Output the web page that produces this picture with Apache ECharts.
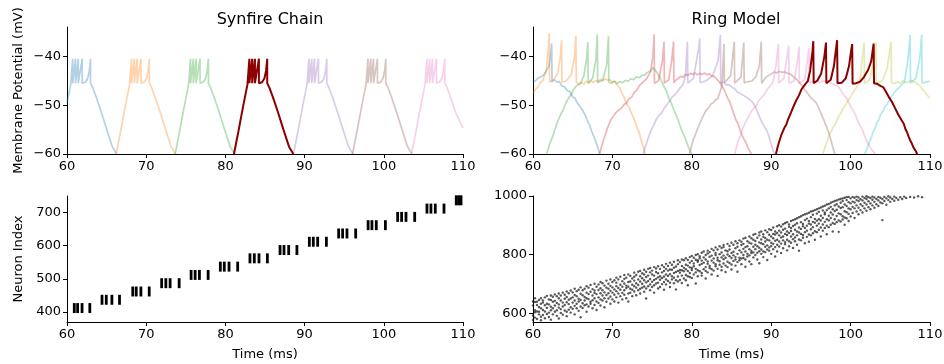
<!DOCTYPE html>
<html>
<head>
  <meta charset="utf-8">
  <style>
    html, body { margin: 0; padding: 0; width: 100%; height: 100%; overflow: hidden; background: #fff; }
  </style>
  <script src="https://cdn.jsdelivr.net/npm/echarts@6/dist/echarts.min.js"></script>
</head>
<body>
  <div id="container" style="width: 944px; height: 364px;"></div>
  <script>
    // ---- data ----
    var vTicks = [-60, -50, -40];
    var synfireNeuronTicks = [400, 500, 600, 700];
    var ringNeuronTicks = [600, 800, 1000];

    // synfire chain membrane traces (ms, mV)
    var synBlue = [[60,-49.6],[60.47,-45.8],[60.72,-40.5],[60.72,-45.5],[61.07,-40.5],[61.07,-45.5],[61.42,-40.5],[61.42,-45.5],[61.67,-45.2],[61.92,-40.5],[61.92,-45.5],[62.32,-45.3],[62.62,-44.5],[62.82,-43],[62.97,-40.5],[62.97,-45.5],[63.22,-46.3],[63.72,-48.5],[64.32,-51.4],[65.02,-55],[65.72,-58.5],[66.27,-60]];
    var synOrange = [[66.2,-60],[66.75,-55.5],[67.35,-50.3],[67.9,-45.8],[68.15,-40.5],[68.15,-45.5],[68.5,-40.5],[68.5,-45.5],[68.85,-40.5],[68.85,-45.5],[69.1,-45.2],[69.35,-40.5],[69.35,-45.5],[69.75,-45.3],[70.05,-44.5],[70.25,-43],[70.4,-40.5],[70.4,-45.5],[70.65,-46.3],[71.15,-48.5],[71.75,-51.4],[72.45,-55],[73.15,-58.5],[73.7,-60]];
    var synGreen = [[73.65,-60],[74.2,-55.5],[74.8,-50.3],[75.35,-45.8],[75.6,-40.5],[75.6,-45.5],[75.95,-40.5],[75.95,-45.5],[76.3,-40.5],[76.3,-45.5],[76.55,-45.2],[76.8,-40.5],[76.8,-45.5],[77.2,-45.3],[77.5,-44.5],[77.7,-43],[77.85,-40.5],[77.85,-45.5],[78.1,-46.3],[78.6,-48.5],[79.2,-51.4],[79.9,-55],[80.6,-58.5],[81.15,-60]];
    var synDark = [[81.08,-60],[81.63,-55.5],[82.23,-50.3],[82.78,-45.8],[83.03,-40.5],[83.03,-45.5],[83.38,-40.5],[83.38,-45.5],[83.73,-40.5],[83.73,-45.5],[83.98,-45.2],[84.23,-40.5],[84.23,-45.5],[84.63,-45.3],[84.93,-44.5],[85.13,-43],[85.28,-40.5],[85.28,-45.5],[85.53,-46.3],[86.03,-48.5],[86.63,-51.4],[87.33,-55],[88.03,-58.5],[88.58,-60]];
    var synPurple = [[88.6,-60],[89.15,-55.5],[89.75,-50.3],[90.3,-45.8],[90.55,-40.5],[90.55,-45.5],[90.9,-40.5],[90.9,-45.5],[91.25,-40.5],[91.25,-45.5],[91.5,-45.2],[91.75,-40.5],[91.75,-45.5],[92.15,-45.3],[92.45,-44.5],[92.65,-43],[92.8,-40.5],[92.8,-45.5],[93.05,-46.3],[93.55,-48.5],[94.15,-51.4],[94.85,-55],[95.55,-58.5],[96.1,-60]];
    var synBrown = [[96.05,-60],[96.6,-55.5],[97.2,-50.3],[97.75,-45.8],[98,-40.5],[98,-45.5],[98.35,-40.5],[98.35,-45.5],[98.7,-40.5],[98.7,-45.5],[98.95,-45.2],[99.2,-40.5],[99.2,-45.5],[99.6,-45.3],[99.9,-44.5],[100.1,-43],[100.25,-40.5],[100.25,-45.5],[100.5,-46.3],[101,-48.5],[101.6,-51.4],[102.3,-55],[103,-58.5],[103.55,-60]];
    var synPink = [[103.5,-60],[104.05,-55.5],[104.65,-50.3],[105.2,-45.8],[105.45,-40.5],[105.45,-45.5],[105.8,-40.5],[105.8,-45.5],[106.15,-40.5],[106.15,-45.5],[106.4,-45.2],[106.65,-40.5],[106.65,-45.5],[107.05,-45.3],[107.35,-44.5],[107.55,-43],[107.7,-40.5],[107.7,-45.5],[107.95,-46.3],[108.45,-48.5],[109.05,-51.4],[110,-54.7]];

    // ring model membrane traces
    var ringBlue = [[60,-44.8],[60.3,-45.1],[60.6,-44.5],[61,-44.2],[61.3,-43.9],[61.6,-43.2],[62,-42],[62.25,-39.5],[62.35,-37.4],[62.4,-45.2],[62.7,-44.8],[63,-45.3],[63.3,-45.1],[63.6,-46],[64,-46.3],[64.3,-47],[64.6,-47.2],[65,-48.3],[65.3,-48.6],[65.6,-49.6],[65.9,-50.2],[66.3,-51.2],[66.6,-52.1],[66.9,-53.4],[67.1,-54],[67.4,-55.4],[67.8,-57],[68.1,-58.3],[68.4,-60]];
    var ringOrange = [[60,-47.5],[60.3,-46.8],[60.6,-46.3],[60.9,-45.4],[61.3,-44.8],[61.7,-42.5],[61.95,-38],[62.05,-35.3],[62.1,-45.3],[62.6,-44.8],[63.1,-43.5],[63.45,-40],[63.6,-36.7],[63.65,-45.3],[64.2,-45],[64.8,-43.8],[65.2,-40.5],[65.4,-35.8],[65.45,-45.3],[65.8,-45.8],[66.1,-45.3],[66.4,-45.7],[66.7,-45.1],[67,-45.5],[67.3,-45.0],[67.6,-45.4],[67.9,-44.9],[68.2,-45.2],[68.5,-44.7],[68.8,-45.0],[69.1,-44.6],[69.4,-44.9],[69.7,-44.8],[70,-45.3],[70.3,-45.2],[70.6,-45.9],[70.9,-46.4],[71.2,-47.6],[71.5,-48.5],[71.8,-49.8],[72.1,-50.4],[72.4,-51.7],[72.7,-52.6],[73,-54.2],[73.3,-55.3],[73.6,-57],[73.9,-58.6],[74.1,-60]];
    var ringGreen = [[61.7,-60],[62.1,-58],[62.5,-56.3],[62.8,-54.8],[63.1,-53.4],[63.5,-51.8],[63.8,-51],[64.1,-49.7],[64.5,-48.5],[64.8,-47.9],[65.1,-46.8],[65.5,-46],[66,-45.5],[66.4,-44],[66.75,-40.5],[66.9,-37.1],[66.95,-45.5],[67.5,-44.5],[67.9,-41],[68.1,-35.5],[68.15,-45.4],[68.8,-44.8],[69.3,-41.5],[69.5,-35.9],[69.55,-45.3],[69.9,-45.5],[70.2,-45.0],[70.6,-45.6],[70.9,-45.2],[71.3,-45.4],[71.6,-44.9],[72,-45.1],[72.3,-44.6],[72.7,-44.8],[73,-44.2],[73.4,-44.4],[73.7,-43.9],[74.1,-43.8],[74.4,-43.3],[74.8,-43],[75.1,-42.3],[75.3,-42.5],[75.7,-43.5],[76.1,-44.8],[76.5,-46.2],[76.8,-47.1],[77.1,-48.6],[77.4,-49.5],[77.7,-50.8],[78,-51.9],[78.3,-53.2],[78.7,-55],[79,-56.1],[79.3,-57.4],[79.6,-58.7],[80,-60]];
    var ringRed = [[68.4,-60],[68.8,-57.5],[69.1,-56.1],[69.4,-54.6],[69.8,-53],[70.1,-52.3],[70.4,-51.6],[70.8,-51],[71.1,-50.7],[71.4,-50],[71.8,-49.5],[72.1,-48.7],[72.4,-48.4],[72.8,-47.3],[73.1,-46.9],[73.4,-46],[73.8,-45.4],[74.3,-44.6],[74.8,-43.2],[75.1,-40],[75.25,-35.5],[75.3,-45.5],[75.8,-45],[76.3,-41],[76.5,-37],[76.55,-45.5],[77.1,-44.8],[77.5,-40.5],[77.7,-37],[77.75,-45.4],[78,-44.9],[78.3,-44.5],[78.6,-44.1],[78.9,-44.3],[79.2,-43.7],[79.5,-43.9],[79.8,-43.5],[80.1,-43.7],[80.4,-43.4],[80.7,-43.8],[81,-43.5],[81.3,-43.7],[81.6,-43.4],[81.9,-43.8],[82.2,-43.6],[82.5,-44],[82.8,-44.1],[83.1,-44.6],[83.5,-45.3],[83.8,-46.2],[84.1,-46.9],[84.5,-48.5],[84.8,-49.4],[85.1,-50.9],[85.5,-52.8],[85.8,-53.7],[86.1,-55.2],[86.5,-56.8],[86.8,-57.6],[87.1,-58.8],[87.5,-60]];
    var ringPurple = [[73.9,-60],[74.2,-58.2],[74.5,-56.8],[74.9,-55],[75.2,-54.1],[75.5,-53],[75.9,-52],[76.2,-51.6],[76.5,-50.7],[76.9,-49.8],[77.2,-49.2],[77.5,-48.4],[77.9,-47.8],[78.2,-47.2],[78.5,-46.5],[78.9,-45.8],[79.2,-44],[79.45,-37],[79.5,-45.5],[80.2,-44.5],[80.9,-38],[81,-36.3],[81.05,-45.4],[81.8,-45],[82.6,-44],[83.3,-41],[83.6,-35.6],[83.65,-45.5],[84,-45.3],[84.4,-45.9],[84.7,-45.8],[85.1,-46.4],[85.4,-46.6],[85.7,-47.3],[86,-47.5],[86.4,-47.9],[86.7,-48.2],[87,-48.5],[87.3,-48.9],[87.7,-49.5],[88,-50.3],[88.3,-51.5],[88.5,-52.3],[88.8,-53.4],[89.1,-54.3],[89.4,-55.1],[89.6,-55.8],[89.8,-56.9],[90,-58],[90.2,-59],[90.4,-60]];
    var ringBrown = [[79.7,-60],[80.2,-57],[80.5,-55.8],[80.8,-54.5],[81.1,-53.4],[81.4,-52.3],[81.8,-51],[82.1,-50.6],[82.4,-49.8],[82.7,-49.5],[83,-48.9],[83.3,-48.6],[83.5,-48.2],[83.8,-46],[84.05,-37.5],[84.1,-45.4],[84.9,-44],[85.35,-37],[85.4,-45.5],[86.2,-44.2],[86.55,-37.2],[86.6,-45.4],[87.1,-45.2],[87.6,-45],[88.1,-44.1],[88.5,-42],[88.75,-37],[88.8,-45.5],[89.1,-44.8],[89.4,-44.2],[89.7,-43.9],[90,-43.6],[90.4,-43.2],[90.7,-43.4],[91,-43.1],[91.4,-43.3],[91.7,-43.2],[92.1,-43.5],[92.4,-43.6],[92.8,-44.2],[93.2,-44.7],[93.6,-45.5],[93.9,-46],[94.2,-46.8],[94.6,-47.6],[94.9,-48.3],[95.3,-48.9],[95.7,-49.6],[96,-50.6],[96.3,-51.8],[96.6,-52.9],[96.9,-54.2],[97.2,-55.4],[97.4,-56.4],[97.7,-58.2],[98,-60]];
    var ringPink = [[85.4,-60],[85.8,-57.5],[86.1,-56.4],[86.4,-54.8],[86.8,-53.3],[87.1,-52.6],[87.4,-51.5],[87.8,-50.6],[88.1,-50.1],[88.4,-49.2],[88.8,-48.4],[89.1,-47.9],[89.4,-47],[89.8,-46.2],[90.2,-45.4],[90.6,-42],[90.9,-37.5],[90.95,-45.5],[91.6,-44.5],[92,-40],[92.2,-37.8],[92.25,-45.5],[92.9,-45],[93.3,-41],[93.5,-38],[93.55,-45.5],[94.2,-44.8],[94.55,-41],[94.75,-38.2],[94.8,-45.5],[95.1,-45.1],[95.5,-45.3],[95.8,-44.9],[96.2,-45.4],[96.5,-45.0],[96.9,-45.2],[97.2,-45.1],[97.6,-45.6],[97.9,-45.7],[98.2,-46],[98.5,-46.3],[98.7,-46.8],[99,-47.6],[99.2,-48],[99.5,-48.6],[99.7,-49.3],[100,-50.2],[100.2,-50.8],[100.5,-51.6],[100.7,-52.4],[101,-53.6],[101.2,-54.2],[101.5,-55.1],[101.7,-56],[102,-57.2],[102.2,-57.8],[102.5,-58.7],[102.7,-59.2],[103.1,-60]];
    var ringDark = [[90.6,-60],[90.8,-58.6],[91,-57.5],[91.3,-56],[91.5,-55.6],[91.7,-54.5],[91.9,-54],[92.1,-53],[92.3,-52.6],[92.5,-51.5],[92.8,-50.3],[93.1,-49.2],[93.3,-48.9],[93.5,-48],[93.8,-46.8],[94.0,-46.5],[94.2,-45.9],[94.6,-45.1],[94.9,-43],[95.2,-39],[95.3,-36.9],[95.35,-45.5],[95.8,-45],[96.3,-43.5],[96.7,-40],[96.9,-37.2],[96.95,-45.5],[97.5,-44.8],[97.9,-42],[98.2,-38],[98.3,-36.7],[98.35,-45.5],[98.9,-45.4],[99.4,-44.5],[99.8,-42],[100.1,-38.5],[100.2,-37.5],[100.25,-45.6],[100.7,-45.5],[101.2,-45.2],[101.7,-44.2],[102.2,-42.8],[102.6,-41],[102.9,-37.4],[102.95,-45.5],[103.3,-45.6],[103.5,-45.8],[103.8,-46.1],[104.1,-46.3],[104.4,-47.1],[104.6,-47.5],[104.8,-48.3],[105,-48.7],[105.2,-49.3],[105.4,-49.7],[105.6,-50.6],[105.8,-51],[106,-51.9],[106.2,-52.3],[106.5,-53.3],[106.7,-53.8],[106.9,-54.9],[107.1,-55.5],[107.3,-56.4],[107.5,-57.2],[107.7,-57.8],[107.9,-58.6],[108.2,-59.4],[108.4,-60]];
    var ringOlive = [[96.5,-60],[96.9,-58],[97.1,-57.2],[97.3,-56],[97.6,-55.3],[97.8,-54.5],[98.1,-53.8],[98.3,-53],[98.6,-52.1],[98.8,-51.5],[99.2,-50.3],[99.6,-49.3],[100,-48.3],[100.4,-47.2],[100.8,-46.2],[101.2,-44.5],[101.5,-40],[101.7,-37.2],[101.75,-45.5],[102.4,-44.8],[102.9,-41],[103.2,-37.1],[103.25,-45.5],[104,-45],[104.6,-42.5],[105.1,-37],[105.15,-45.4],[105.5,-45.6],[105.9,-45.2],[106.2,-45.5],[106.6,-45],[106.9,-45.4],[107.3,-45.3],[107.6,-44.9],[107.9,-45.2],[108.2,-45.3],[108.5,-45.8],[108.8,-46.1],[109,-46.8],[109.3,-47.1],[109.5,-47.7],[109.8,-48.2],[110,-48.6]];
    var ringCyan = [[101.8,-60],[102.1,-58.8],[102.3,-57.8],[102.6,-56.7],[102.8,-55.6],[103.1,-54.6],[103.3,-53.6],[103.6,-52.9],[103.8,-51.8],[104.1,-51.2],[104.3,-50.3],[104.6,-49.8],[104.8,-49.2],[105.1,-48.3],[105.3,-48],[105.6,-47.2],[105.8,-47],[106.1,-46.4],[106.3,-46.2],[106.8,-45.2],[107.2,-41],[107.5,-35.6],[107.55,-45.5],[108.2,-44.5],[108.7,-40.5],[108.95,-35.6],[109,-45.5],[109.5,-45.3],[110,-45.1]];

    // synfire raster: neuron block per group and the spike times of each group
    var synfireNeurons = [[400,424],[425,449],[450,474],[475,499],[500,524],[525,549],[550,574],[575,599],[600,624],[625,649],[650,674],[675,699],[700,724],[725,749]];
    var synfireSpikes = [
      [60.92,61.34,61.9,62.88],
      [64.42,64.96,65.67,66.63],
      [68.3,68.74,69.33,70.38],
      [71.95,72.48,73.02,74.16],
      [75.67,76.18,76.72,77.82],
      [79.36,79.86,80.46,81.55],
      [83.1,83.65,84.24,85.3],
      [86.9,87.4,87.99,89.03],
      [90.6,91.1,91.65,92.75],
      [94.3,94.8,95.35,96.45],
      [98.02,98.5,99.05,100.2],
      [101.75,102.25,102.8,103.9],
      [105.45,105.95,106.5,107.6],
      [109.15,109.45,109.75]
    ];

    // ring model raster: [time, [neuron indices spiking at that time]]
    var ringRaster = [
      [60.0,[578,593,627,641]],[60.25,[586,604,611,639,652]],[60.5,[581,607,629,640]],[60.75,[597,606,622,646]],
      [61.0,[577,589,618,633,652]],[61.25,[595,612,637,644]],[61.5,[584,607,628,655]],[61.75,[598,619,633,660]],
      [62.0,[588,603,631,648]],[62.25,[579,611,623,646,661]],[62.5,[597,618,640,657]],[62.75,[606,627,643,665]],
      [63.0,[592,611,636,659]],[63.25,[583,620,631,652,668]],[63.5,[602,615,644,661]],[63.75,[596,624,637,671]],
      [64.0,[610,629,650,664]],[64.25,[591,606,638,656,675]],[64.5,[613,632,647,669]],[64.75,[603,621,651,678]],
      [65.0,[616,637,655,672]],[65.25,[597,626,644,663,684]],[65.5,[618,633,659,676]],[65.75,[609,641,650,681]],
      [66.0,[587,624,646,667,689]],[66.25,[619,635,662,679]],[66.5,[628,644,656,684]],[66.75,[606,631,652,671,693]],
      [67.0,[624,649,666,688]],[67.25,[633,640,674,697]],[67.5,[618,645,661,683]],[67.75,[629,652,670,678,701]],
      [68.0,[612,641,666,691]],[68.25,[636,655,680,699]],[68.5,[627,648,669,686,707]],[68.75,[644,661,679,703]],
      [69.0,[621,652,672,695]],[69.25,[640,663,688,712]],[69.5,[651,669,684,701]],[69.75,[633,658,677,694,716]],
      [70.0,[648,671,689,707]],[70.25,[641,664,682,713]],[70.5,[655,676,693,705,722]],[70.75,[637,668,687,716]],
      [71.0,[659,681,698,725]],[71.25,[648,670,691,710]],[71.5,[664,679,702,718,731]],[71.75,[652,687,695,722]],
      [72.0,[641,668,691,707,733]],[72.25,[671,684,709,728]],[72.5,[659,681,698,719]],[72.75,[675,693,712,725,739]],
      [73.0,[662,688,703,731]],[73.25,[679,697,716,742]],[73.5,[668,684,709,727,745]],[73.75,[688,701,720,737]],
      [74.0,[674,692,713,733,749]],[74.25,[651,685,706,724,742]],[74.5,[693,711,729,752]],[74.75,[679,699,717,740,755]],
      [75.0,[690,708,733,746]],[75.25,[671,696,714,729,758]],[75.5,[702,718,741,753]],[75.75,[685,705,723,737,761]],
      [76.0,[690,715,727,752]],[76.25,[700,721,740,764]],[76.5,[681,707,726,745,758]],[76.75,[699,716,733,752,769]],
      [77.0,[711,728,746,762]],[77.25,[690,705,734,750,773]],[77.5,[716,727,749,766]],[77.75,[703,722,738,756,776]],
      [78.0,[682,713,741,760]],[78.25,[709,726,745,768,781]],[78.5,[714,739,748,775]],[78.75,[704,729,747,762,784]],
      [79.0,[719,744,756,781]],[79.25,[713,731,751,766,788]],[79.5,[696,727,745,763,782]],[79.75,[724,738,757,773,792]],
      [80.0,[721,748,755,779,796]],[80.25,[733,761,770,790]],[80.5,[702,740,752,783,799]],[80.75,[727,747,776,781,802]],
      [81.0,[744,765,788,795]],[81.25,[729,738,769,780,807]],[81.5,[751,773,791,811]],[81.75,[719,745,758,784,799]],
      [82.0,[740,769,777,804,814]],[82.25,[755,762,793,809]],[82.5,[733,751,780,797,820]],[82.75,[746,773,787,815]],
      [83.0,[761,768,799,806,825]],[83.25,[728,752,781,790,818]],[83.5,[766,778,802,829]],[83.75,[747,759,791,808,823]],
      [84.0,[770,785,797,826,833]],[84.25,[741,763,790,815]],[84.5,[758,776,801,812,837]],[84.75,[772,795,818,830]],
      [85.0,[750,767,789,806,841]],[85.25,[779,798,810,834]],[85.5,[763,784,792,822,846]],[85.75,[742,775,803,827,839]],
      [86.0,[781,790,815,849]],[86.25,[768,787,808,833,844]],[86.5,[789,799,820,837,855]],[86.75,[759,784,811,826,858]],
      [87.0,[794,803,829,846]],[87.25,[777,798,819,841,862]],[87.5,[768,806,813,838,856]],[87.75,[791,808,827,851,868]],
      [88.0,[799,819,834,847,871]],[88.25,[784,807,829,858]],[88.5,[771,812,824,842,866,876]],[88.75,[803,818,839,852,879]],
      [89.0,[792,811,836,861,870]],[89.25,[809,827,845,857,883]],[89.5,[782,818,832,851,877]],[89.75,[814,825,849,868,887]],
      [90.0,[803,830,841,862,884]],[90.25,[819,837,856,871,893]],[90.5,[794,826,848,869,879]],[90.75,[811,834,851,874,897]],
      [91.0,[828,845,866,882,901]],[91.25,[806,838,859,876,896]],[91.5,[822,849,862,885,904]],[91.75,[836,843,871,889,908]],
      [92.0,[815,851,867,879,911]],[92.25,[829,846,874,895,903]],[92.5,[841,862,881,891,915]],[92.75,[823,853,870,898,918]],
      [93.0,[846,859,885,902,921]],[93.25,[834,866,879,907,924]],[93.5,[814,852,876,893,928]],[93.75,[849,871,888,911,931]],
      [94.0,[858,867,897,905,935]],[94.25,[839,877,891,918,938]],[94.5,[861,882,899,923,940]],[94.75,[844,869,906,915,943]],
      [95.0,[866,887,903,928,947]],[95.25,[873,894,912,936,949]],[95.5,[851,880,909,922,952]],[95.75,[877,899,916,940,955]],
      [96.0,[885,906,921,946,958]],[96.25,[862,893,917,933,961]],[96.5,[882,903,925,951,964]],[96.75,[891,912,938,944,967]],
      [97.0,[870,899,921,952,971]],[97.25,[894,917,933,958,973]],[97.5,[902,925,944,963,977]],[97.75,[879,908,937,955,980]],
      [98.0,[905,921,949,968,983]],[98.25,[911,932,953,972,985]],[98.5,[878,917,941,964,988]],[98.75,[913,938,959,977,990]],
      [99.0,[920,931,962,983,992]],[99.25,[902,927,948,971,994]],[99.5,[924,945,966,986,996]],[99.75,[915,939,958,979,997]],
      [100.0,[930,955,975,992]],[100.25,[942,963,981,997]],[100.5,[925,958,978,994]],[100.75,[947,968,986,998]],
      [101.0,[938,960,983,995]],[101.25,[952,972,989]],[101.5,[944,966,985,998]],[101.75,[958,977,993]],
      [102.0,[950,971,990,999]],[102.25,[962,982,996]],[102.5,[955,975,993]],[102.75,[968,987,998]],
      [103.0,[960,980,995]],[103.25,[972,990]],[103.5,[966,985,997]],[103.75,[978,994]],
      [104.0,[918,975,990]],[104.25,[983,997]],[104.5,[970,992]],[104.75,[986,999]],
      [105.0,[980,995]],[105.25,[990]],[105.5,[984,998]],[105.75,[993]],
      [106.0,[987]],[106.25,[996]],[106.5,[990]],[106.75,[998]],
      [107.0,[993]],[107.5,[997]],[108.0,[995]],[108.5,[999]],[109.0,[996]]
    ];

    // ---- chart ----
    var font = 'DejaVu Sans';
    var fadeA = 0.34;
    function tab(r, g, b) { return 'rgba(' + r + ',' + g + ',' + b + ',' + fadeA + ')'; }
    var cBlue = tab(31,119,180), cOrange = tab(255,127,14), cGreen = tab(44,160,44), cRed = tab(214,39,40),
        cPurple = tab(148,103,189), cBrown = tab(140,86,75), cPink = tab(227,119,194),
        cOlive = tab(188,189,34), cCyan = tab(23,190,207);
    var darkRed = '#8b0000';

    var synfireBars = [];
    synfireSpikes.forEach(function (times, g) {
      times.forEach(function (t) {
        synfireBars.push([t, synfireNeurons[g][0], synfireNeurons[g][1]]);
      });
    });
    var ringPoints = [];
    ringRaster.forEach(function (col) {
      col[1].forEach(function (n) { ringPoints.push([col[0], n]); });
    });

    function minus(v) { return String(v).replace('-', '\u2212'); }

    function xAx(idx, withName) {
      return {
        type: 'value', gridIndex: idx, min: 60, max: 110, interval: 10,
        name: withName ? 'Time (ms)' : '', nameLocation: 'middle', nameGap: 26,
        nameTextStyle: { fontFamily: font, fontSize: 13, color: '#000' },
        axisLine: { show: true, onZero: false, lineStyle: { color: '#000', width: 1 } },
        axisTick: { show: true, length: 4, lineStyle: { color: '#000', width: 1 } },
        axisLabel: { fontFamily: font, fontSize: 13, color: '#000', margin: 6 },
        splitLine: { show: false }
      };
    }
    function yAx(idx, min, max, ticks, name) {
      return {
        type: 'value', gridIndex: idx, min: min, max: max,
        name: name || '', nameLocation: 'middle', nameGap: 42,
        nameTextStyle: { fontFamily: font, fontSize: 13, color: '#000' },
        axisLine: { show: true, onZero: false, lineStyle: { color: '#000', width: 1 } },
        axisTick: { show: true, length: 4, customValues: ticks, lineStyle: { color: '#000', width: 1 } },
        axisLabel: { fontFamily: font, fontSize: 13, color: '#000', margin: 6, customValues: ticks, formatter: minus },
        splitLine: { show: false }
      };
    }

    function trace(data, color, axis, width, z) {
      return {
        type: 'line', xAxisIndex: axis, yAxisIndex: axis, data: data,
        showSymbol: false, symbol: 'none', silent: true, z: z || 2,
        lineStyle: { color: color, width: width || 1.7 }
      };
    }

    var option = {
      animation: false,
      backgroundColor: '#fff',
      title: [
        { text: 'Synfire Chain', left: 265, top: 7, textAlign: 'center',
          textStyle: { fontFamily: font, fontSize: 16, fontWeight: 'normal', color: '#000' } },
        { text: 'Ring Model', left: 731, top: 7, textAlign: 'center',
          textStyle: { fontFamily: font, fontSize: 16, fontWeight: 'normal', color: '#000' } }
      ],
      grid: [
        { left: 67, top: 27, width: 396, height: 127, outerBoundsMode: 'none' },
        { left: 533, top: 27, width: 397, height: 127, outerBoundsMode: 'none' },
        { left: 67, top: 196, width: 396, height: 126, outerBoundsMode: 'none' },
        { left: 533, top: 196, width: 397, height: 126, outerBoundsMode: 'none' }
      ],
      xAxis: [xAx(0, false), xAx(1, false), xAx(2, true), xAx(3, true)],
      yAxis: [
        yAx(0, -60, -34, vTicks, 'Membrane Potential (mV)'),
        yAx(1, -60, -34, vTicks),
        yAx(2, 370, 750, synfireNeuronTicks, 'Neuron Index'),
        yAx(3, 571, 1000, ringNeuronTicks)
      ],
      series: [
        trace(synBlue, cBlue, 0), trace(synOrange, cOrange, 0), trace(synGreen, cGreen, 0),
        trace(synPurple, cPurple, 0), trace(synBrown, cBrown, 0), trace(synPink, cPink, 0),
        trace(synDark, darkRed, 0, 2, 5),
        trace(ringBlue, cBlue, 1), trace(ringOrange, cOrange, 1), trace(ringGreen, cGreen, 1),
        trace(ringRed, cRed, 1), trace(ringPurple, cPurple, 1), trace(ringBrown, cBrown, 1),
        trace(ringPink, cPink, 1), trace(ringOlive, cOlive, 1), trace(ringCyan, cCyan, 1),
        trace(ringDark, darkRed, 1, 2, 5),
        {
          type: 'custom', xAxisIndex: 2, yAxisIndex: 2, data: synfireBars, silent: true,
          renderItem: function (params, api) {
            var lo = api.coord([api.value(0), api.value(1)]);
            var hi = api.coord([api.value(0), api.value(2)]);
            return {
              type: 'rect',
              shape: { x: lo[0] - 1.4, y: hi[1] - 1, width: 2.8, height: lo[1] - hi[1] + 2 },
              style: { fill: '#000' }
            };
          }
        },
        {
          type: 'scatter', xAxisIndex: 3, yAxisIndex: 3, data: ringPoints, silent: true,
          symbol: 'circle', symbolSize: 2.4,
          itemStyle: { color: 'rgba(10,10,10,0.85)' }
        }
      ]
    };

    var myChart = echarts.init(document.getElementById('container'), null, { renderer: 'canvas' });
    myChart.setOption(option);
  </script>
</body>
</html>
